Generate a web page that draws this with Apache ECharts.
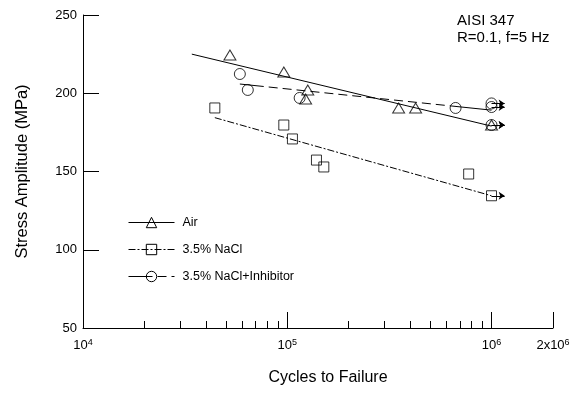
<!DOCTYPE html>
<html><head><meta charset="utf-8">
<script src="https://cdn.jsdelivr.net/npm/echarts@6/dist/echarts.min.js"></script>
<style>html,body{margin:0;padding:0;background:#fff}#c{width:579px;height:393px}</style>
</head><body><div id="c"></div>
<script>
// ---- data ----
const seriesNames = ['Air', '3.5% NaCl', '3.5% NaCl+Inhibitor'];

const airCycles = [52400, 96200, 126000, 123000, 351000, 425000];
const airStress = [224.4, 213.6, 202.1, 196.3, 190.6, 190.6];
const airRunoutCycles = [1000000];
const airRunoutStress = [179.7];
const airFitCycles = [34100, 1000000];
const airFitStress = [225.0, 179.0];

const naclCycles = [44200, 96200, 106000, 139000, 151000, 773000];
const naclStress = [190.6, 179.7, 170.8, 157.3, 152.9, 148.4];
const naclRunoutCycles = [1000000];
const naclRunoutStress = [134.5];
const naclFitCycles = [44200, 1000000];
const naclFitStress = [184.4, 134.5];

const inhCycles = [58600, 64100, 115000, 667000];
const inhStress = [212.3, 202.1, 197.0, 190.6];
const inhRunoutCycles = [1000000, 1000000, 1000000];
const inhRunoutStress = [193.5, 191.2, 179.7];
const inhFitCycles = [58600, 1000000];
const inhFitStress = [205.9, 189.2];

const xMajorTicks = [10000, 100000, 1000000, 2000000];
const xMinorTicks = [20000, 30000, 40000, 50000, 60000, 70000, 80000, 90000,
                     200000, 300000, 400000, 500000, 600000, 700000, 800000, 900000];
const yMin = 50, yMax = 250, yStep = 50;
const annotation = ['AISI 347', 'R=0.1, f=5 Hz'];
const xTitle = 'Cycles to Failure';
const yTitle = 'Stress Amplitude (MPa)';

// ---- helpers ----
const zip = (a, b) => a.map((v, i) => [v, b[i]]);
const FONT = 'Liberation Sans, Arial, sans-serif';
const ARROW_FACTOR = 1.16;

function supLabel(v) {
  const e = Math.floor(Math.log10(v) + 1e-9);
  const m = Math.round(v / Math.pow(10, e));
  return (m === 1 ? '{b|10}' : '{b|' + m + 'x10}') + '{s|' + e + '}';
}

function markerSeries(name, symbol, size, xs, ys, rx, ry) {
  return {
    name: name, type: 'scatter', xAxisIndex: 0,
    symbol: symbol, symbolSize: size,
    itemStyle: { color: 'rgba(0,0,0,0)', borderColor: '#000', borderWidth: 1 },
    data: zip(xs, ys).concat(zip(rx, ry)),
    z: 5, silent: true,
    markLine: {
      silent: true, animation: false,
      symbol: ['none', 'arrow'], symbolSize: 6,
      label: { show: false },
      lineStyle: { color: '#000', width: 1, type: 'solid' },
      data: zip(rx, ry).map(p => [{ coord: [p[0], p[1]] }, { coord: [p[0] * ARROW_FACTOR, p[1]] }])
    }
  };
}

function fitSeries(name, symbol, dash, xs, ys) {
  return {
    name: name, type: 'line', xAxisIndex: 0,
    symbol: symbol, showSymbol: false, symbolSize: 10,
    itemStyle: { color: 'rgba(0,0,0,0)', borderColor: '#000', borderWidth: 1 },
    lineStyle: { color: '#000', width: 1, type: dash },
    data: zip(xs, ys), z: 3, silent: true
  };
}

const inhDash = [24, 5];
for (let i = 0; i < 13; i++) inhDash.push(9, 5);
inhDash.push(60);

const chart = echarts.init(document.getElementById('c'), null, { renderer: 'canvas' });
chart.setOption({
  animation: false,
  backgroundColor: '#fff',
  textStyle: { fontFamily: FONT, color: '#000' },
  grid: { left: 83, right: 26, top: 15, bottom: 65 },
  title: {
    text: annotation.join('\n'), left: 457, top: 12, padding: 0,
    textStyle: { fontFamily: FONT, fontSize: 15, fontWeight: 'normal', lineHeight: 17, color: '#000' }
  },
  legend: {
    data: seriesNames, orient: 'vertical', left: 123, top: 211,
    itemWidth: 46, itemHeight: 13, itemGap: 14,
    itemStyle: { borderWidth: 1, borderColor: '#000', color: 'rgba(0,0,0,0)' },
    lineStyle: { width: 1, color: '#000' },
    textStyle: { fontFamily: FONT, fontSize: 12.5, color: '#000', padding: [0, 0, 0, 3] },
    selectedMode: false
  },
  xAxis: [{
    type: 'log', logBase: 10, min: 10000, max: 2000000,
    name: xTitle, nameLocation: 'middle', nameGap: 42,
    nameTextStyle: { fontFamily: FONT, fontSize: 16, color: '#000', padding: [0, 0, 0, 20] },
    axisLine: { show: true, lineStyle: { color: '#000', width: 1 } },
    axisTick: { show: true, inside: true, length: 16, customValues: xMajorTicks, lineStyle: { color: '#000' } },
    axisLabel: {
      show: true, customValues: xMajorTicks, margin: 10, formatter: supLabel,
      rich: {
        b: { fontFamily: FONT, fontSize: 13, color: '#000', lineHeight: 14, verticalAlign: 'bottom' },
        s: { fontFamily: FONT, fontSize: 9, color: '#000', lineHeight: 10, verticalAlign: 'top' }
      }
    },
    splitLine: { show: false }, minorTick: { show: false }
  }, {
    type: 'log', logBase: 10, min: 10000, max: 2000000, position: 'bottom',
    axisLine: { show: false },
    axisTick: { show: true, inside: true, length: 7, customValues: xMinorTicks, lineStyle: { color: '#000' } },
    axisLabel: { show: false },
    splitLine: { show: false }, minorTick: { show: false }
  }],
  yAxis: {
    type: 'value', min: yMin, max: yMax, interval: yStep,
    name: yTitle, nameLocation: 'middle', nameGap: 52,
    nameTextStyle: { fontFamily: FONT, fontSize: 16.5, color: '#000' },
    axisLine: { show: true, lineStyle: { color: '#000', width: 1 } },
    axisTick: { show: true, inside: true, length: 16, lineStyle: { color: '#000' } },
    axisLabel: { fontFamily: FONT, fontSize: 13, color: '#000', margin: 6 },
    splitLine: { show: false }
  },
  series: [
    fitSeries(seriesNames[0], 'triangle', 'solid', airFitCycles, airFitStress),
    fitSeries(seriesNames[1], 'rect', [7, 2, 2, 2], naclFitCycles, naclFitStress),
    fitSeries(seriesNames[2], 'circle', inhDash, inhFitCycles, inhFitStress),
    markerSeries('Air points', 'triangle', [12, 10], airCycles, airStress, airRunoutCycles, airRunoutStress),
    markerSeries('NaCl points', 'rect', 10, naclCycles, naclStress, naclRunoutCycles, naclRunoutStress),
    markerSeries('Inhibitor points', 'circle', 11, inhCycles, inhStress, inhRunoutCycles, inhRunoutStress)
  ]
});
</script>
</body></html>
